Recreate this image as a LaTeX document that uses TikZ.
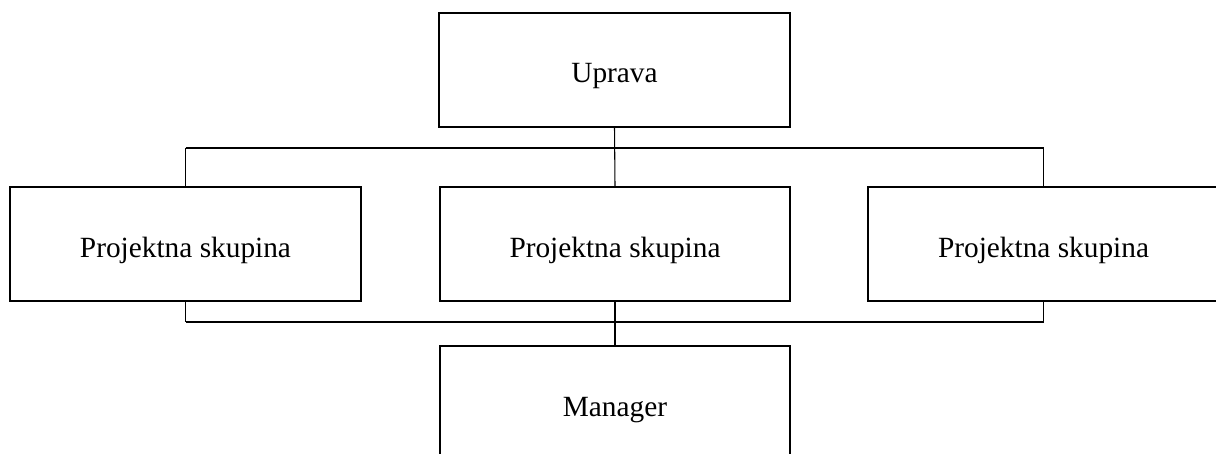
\documentclass[tikz,border=0pt]{standalone}
\usepackage{fontspec}
\setmainfont{Liberation Serif}
\begin{document}
\begin{tikzpicture}[x=0.75pt, y=-0.75pt,
	    unit/.style={draw, line width=1.3pt, minimum width=263pt, minimum height=85.5pt, inner sep=0pt, text height=19.5pt, text depth=0pt, font=\fontsize{22}{26}\selectfont},
	    link/.style={line width=0.8pt},
	    bar/.style={line width=1.4pt}]
	    \useasboundingbox (0,0) rectangle (1216,453);
	    \clip (0,0) rectangle (1216,453);
		\node[unit] (uprava) at (614.5, 70) {Uprava};
		\node[unit] (left) at (185.5, 244) {Projektna skupina};
		\node[unit] (mid) at (615, 244) {Projektna skupina};
		\node[unit] (right) at (1043.5, 244) {Projektna skupina};
		\node[unit] (manager) at (615, 403) {Manager};
		\coordinate (topbar) at (615, 148);
		\coordinate (botbar) at (615, 322);
	
		\draw[link] (uprava.south) -- (mid.north);
		\draw[link] (mid.south) -- (manager.north);
		\draw[link] (left.north) -- (left.north |- topbar);
		\draw[link] (right.north) -- (right.north |- topbar);
		\draw[link] (left.south) -- (left.south |- botbar);
		\draw[link] (right.south) -- (right.south |- botbar);
		\draw[bar] (left.north |- topbar) -- (right.north |- topbar);
		\draw[bar] (left.south |- botbar) -- (right.south |- botbar);
	\end{tikzpicture}
\end{document}
